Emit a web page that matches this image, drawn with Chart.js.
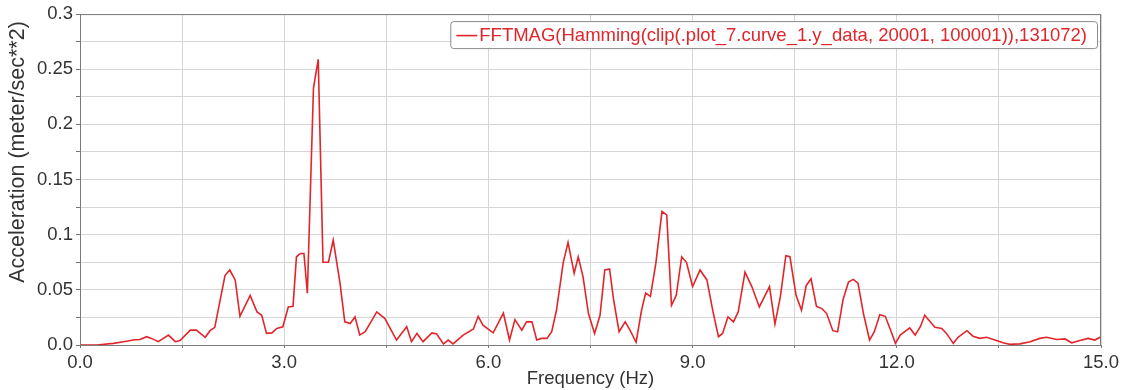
<!DOCTYPE html>
<html>
<head>
<meta charset="utf-8">
<title>FFT magnitude</title>
<script src="https://cdn.jsdelivr.net/npm/chart.js@4.4.1/dist/chart.umd.min.js"></script>
<style>
  html, body { margin: 0; padding: 0; background: #fff; }
  #wrap { width: 1127px; height: 390px; position: relative; }
</style>
</head>
<body>
<div id="wrap"><canvas id="fft"></canvas></div>
<script>
// Spectrum (Hz, meter/sec**2)
const freqHz = [
  0.00, 0.25, 0.49, 0.64, 0.78, 0.88, 0.98, 1.05, 1.15, 1.30, 1.40, 1.47, 1.62, 1.71, 1.84, 1.91, 1.98,
  2.13, 2.20, 2.28, 2.35, 2.50, 2.60, 2.67, 2.74, 2.82, 2.89, 2.98, 3.06, 3.13, 3.18, 3.24, 3.29, 3.34,
  3.43, 3.50, 3.57, 3.65, 3.72, 3.82, 3.89, 3.97, 4.04, 4.11, 4.19, 4.36, 4.48, 4.65, 4.80, 4.87, 4.95,
  5.04, 5.17, 5.24, 5.34, 5.41, 5.48, 5.63, 5.78, 5.85, 5.92, 6.07, 6.22, 6.31, 6.39, 6.49, 6.56, 6.64,
  6.71, 6.78, 6.86, 6.93, 7.00, 7.10, 7.17, 7.26, 7.32, 7.39, 7.47, 7.56, 7.64, 7.71, 7.78, 7.84, 7.92,
  8.01, 8.08, 8.17, 8.25, 8.31, 8.38, 8.46, 8.55, 8.62, 8.69, 8.76, 8.84, 8.91, 9.00, 9.11, 9.21, 9.30,
  9.38, 9.44, 9.52, 9.60, 9.67, 9.77, 9.87, 9.98, 10.13, 10.21, 10.29, 10.37, 10.43, 10.52, 10.60, 10.67,
  10.74, 10.82, 10.90, 10.97, 11.06, 11.13, 11.21, 11.29, 11.36, 11.43, 11.51, 11.60, 11.67, 11.75, 11.83,
  11.90, 11.98, 12.05, 12.19, 12.27, 12.35, 12.41, 12.56, 12.66, 12.73, 12.83, 12.90, 13.03, 13.12, 13.22,
  13.32, 13.42, 13.56, 13.66, 13.81, 13.96, 14.10, 14.20, 14.35, 14.47, 14.57, 14.69, 14.81, 14.91, 15.00
];
const accelMag = [
  0.000, 0.000, 0.0015, 0.003, 0.0045, 0.005, 0.0075, 0.006, 0.003, 0.009, 0.003, 0.004, 0.0135, 0.0135, 0.007, 0.013, 0.016,
  0.063, 0.068, 0.059, 0.026, 0.045, 0.030, 0.027, 0.0105, 0.011, 0.015, 0.0165, 0.0345, 0.035, 0.080, 0.083, 0.083, 0.047,
  0.233, 0.259, 0.075, 0.075, 0.095, 0.056, 0.021, 0.0195, 0.0255, 0.009, 0.012, 0.030, 0.024, 0.0045, 0.0165, 0.003, 0.0105,
  0.003, 0.011, 0.010, 0.001, 0.0045, 0.001, 0.009, 0.0145, 0.026, 0.018, 0.011, 0.029, 0.0045, 0.023, 0.0135, 0.021, 0.021,
  0.0045, 0.006, 0.006, 0.012, 0.0315, 0.075, 0.093, 0.065, 0.080, 0.062, 0.0285, 0.0105, 0.027, 0.068, 0.069, 0.041, 0.012,
  0.021, 0.0135, 0.0025, 0.0315, 0.047, 0.044, 0.074, 0.121, 0.118, 0.036, 0.045, 0.080, 0.075, 0.053, 0.068, 0.059, 0.030,
  0.0075, 0.0105, 0.0255, 0.021, 0.030, 0.066, 0.053, 0.0345, 0.053, 0.019, 0.044, 0.081, 0.080, 0.045, 0.0315, 0.054,
  0.060, 0.035, 0.033, 0.0285, 0.013, 0.012, 0.041, 0.057, 0.0595, 0.056, 0.0285, 0.0045, 0.012, 0.0275, 0.026,
  0.015, 0.0015, 0.009, 0.0155, 0.009, 0.017, 0.027, 0.016, 0.015, 0.0105, 0.0015, 0.007, 0.013, 0.008, 0.006,
  0.007, 0.005, 0.002, 0.0006, 0.001, 0.003, 0.006, 0.007, 0.005, 0.0055, 0.002, 0.004, 0.006, 0.0045, 0.0075
];

// Axis setup
const xRange = [0, 15];
const xStep = 1.5;        // grid every 1.5 Hz, labels every 3 Hz
const yRange = [0, 0.3];
const yStep = 0.025;      // grid every 0.025, labels every 0.05

const seriesLabel = 'FFTMAG(Hamming(clip(.plot_7.curve_1.y_data, 20001, 100001)),131072)';
const xTitle = 'Frequency (Hz)';
const yTitle = 'Acceleration (meter/sec**2)';

const RED = '#e0262b';
const FONT = "'Liberation Sans', Arial, sans-serif";
const TXT = '#333';

// Plot frame, rotated y title and the boxed legend
const framePlugin = {
  id: 'framePlugin',
  afterDraw(chart) {
    const { ctx, chartArea: ca } = chart;
    ctx.save();

    ctx.strokeStyle = '#7a7a7a';
    ctx.lineWidth = 1;
    ctx.strokeRect(ca.left + 0.5, ca.top + 0.5, ca.right - ca.left - 1, ca.bottom - ca.top);

    // y title sits a bit above the plot centre in the original
    ctx.fillStyle = TXT;
    ctx.font = `21.5px ${FONT}`;
    ctx.textAlign = 'center';
    ctx.textBaseline = 'middle';
    ctx.translate(18, 152);
    ctx.rotate(-Math.PI / 2);
    ctx.fillText(yTitle, 0, 0);
    ctx.setTransform(1, 0, 0, 1, 0, 0);

    // legend box, top right inside the plot
    ctx.font = `18.5px ${FONT}`;
    const tw = ctx.measureText(seriesLabel).width;
    const right = ca.right - 4;
    const top = ca.top + 7;
    const h = 27;
    const w = 8 + 21 + 2 + tw + 8;
    const left = right - w;
    ctx.fillStyle = '#fff';
    ctx.strokeStyle = '#8a8a8a';
    ctx.beginPath();
    ctx.roundRect(left + 0.5, top + 0.5, w, h, 3);
    ctx.fill();
    ctx.stroke();

    const midY = top + h / 2 + 1;
    ctx.strokeStyle = RED;
    ctx.lineWidth = 1.6;
    ctx.beginPath();
    ctx.moveTo(left + 6, midY);
    ctx.lineTo(left + 27, midY);
    ctx.stroke();

    ctx.fillStyle = RED;
    ctx.textAlign = 'left';
    ctx.textBaseline = 'middle';
    ctx.fillText(seriesLabel, left + 29, midY);
    ctx.restore();
  }
};

new Chart(document.getElementById('fft'), {
  type: 'line',
  data: {
    datasets: [{
      label: seriesLabel,
      data: freqHz.map((f, i) => ({ x: f, y: accelMag[i] })),
      borderColor: RED,
      borderWidth: 1.6,
      pointRadius: 0,
      tension: 0,
      fill: false
    }]
  },
  options: {
    responsive: true,
    maintainAspectRatio: false,
    animation: false,
    layout: { padding: { left: 0, right: 26, top: 13, bottom: 0 } },
    plugins: {
      legend: { display: false },
      tooltip: { enabled: false }
    },
    scales: {
      x: {
        type: 'linear',
        min: xRange[0],
        max: xRange[1],
        afterFit: s => { s.height = 45; },
        ticks: {
          stepSize: xStep,
          autoSkip: false,
          maxRotation: 0,
          padding: 4,
          color: TXT,
          font: { family: FONT, size: 18.5 },
          callback: v => {
            const r = Math.round(v * 10);
            return r % 30 === 0 ? (r / 10).toFixed(1) : '';
          }
        },
        grid: { color: '#d6d6d6', tickColor: '#777', tickLength: 3 },
        border: { color: '#777' },
        title: {
          display: true,
          text: xTitle,
          color: TXT,
          font: { family: FONT, size: 18.5 },
          padding: { top: 0, bottom: 0 }
        }
      },
      y: {
        min: yRange[0],
        max: yRange[1],
        afterFit: s => { s.width = 80; },
        ticks: {
          stepSize: yStep,
          autoSkip: false,
          padding: 3,
          color: TXT,
          font: { family: FONT, size: 18.5 },
          callback: v => {
            const r = Math.round(v * 1000);
            if (r % 50 !== 0) return '';
            return r === 0 ? '0.0' : String(r / 1000);
          }
        },
        grid: { color: '#d6d6d6', tickColor: '#777', tickLength: 4 },
        border: { color: '#777' }
      }
    }
  },
  plugins: [framePlugin]
});
</script>
</body>
</html>
